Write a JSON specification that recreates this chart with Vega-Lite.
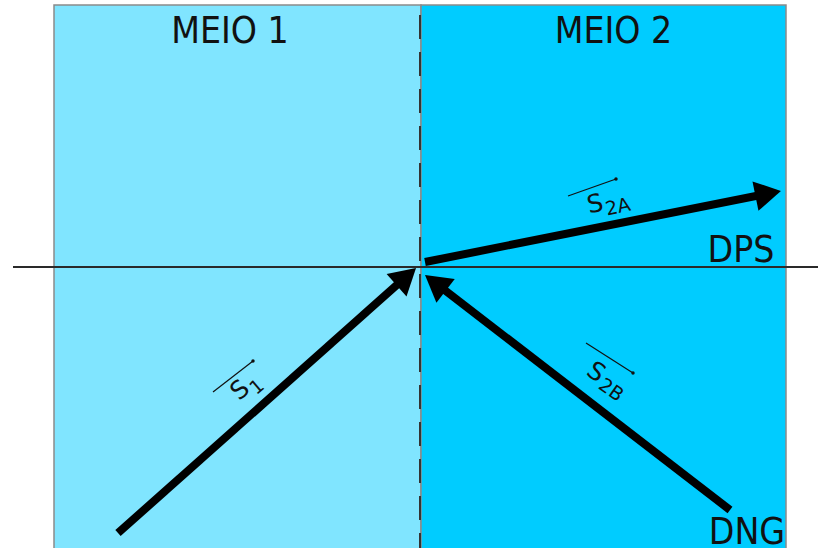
{
  "$schema": "https://vega.github.io/schema/vega-lite/v6.json",
  "width": 818,
  "height": 548,
  "autosize": "none",
  "padding": 0,
  "background": "white",
  "config": {"view": {"stroke": null}},
  "datasets": {
    "media": [
      {"medium": "MEIO 1", "x1": -366, "x2": 1, "y1": -290, "y2": 262},
      {"medium": "MEIO 2", "x1": 1, "x2": 366, "y1": -290, "y2": 262}
    ],
    "rays": [
      {"ray": "S1", "x0": -302, "y0": -266, "x1": -13.7, "y1": -9.6, "angle": 48.5},
      {"ray": "S2B", "x0": 310, "y0": -243, "x1": 15.3, "y1": -15.9, "angle": 307.6},
      {"ray": "S2A", "x0": 5, "y0": 5, "x1": 348.2, "y1": 73.5, "angle": 78.5}
    ],
    "vecs": [
      {"ray": "S1", "x0": -207, "y0": -125, "x1": -167, "y1": -94},
      {"ray": "S2A", "x0": 148, "y0": 71, "x1": 196, "y1": 88},
      {"ray": "S2B", "x0": 166, "y0": -76, "x1": 213, "y1": -106}
    ],
    "titles": [
      {"text": "MEIO 1", "x": -190, "y": 235},
      {"text": "MEIO 2", "x": 193.5, "y": 235},
      {"text": "DPS", "x": 321, "y": 16},
      {"text": "DNG", "x": 327, "y": -266}
    ],
    "symbols": [
      {"text": "S", "x": -180, "y": -123, "angle": 320, "size": 25},
      {"text": "1", "x": -163, "y": -120, "angle": 320, "size": 19},
      {"text": "S", "x": 175, "y": 63, "angle": 348, "size": 25},
      {"text": "2A", "x": 198, "y": 60, "angle": 348, "size": 19},
      {"text": "S", "x": 176, "y": -105, "angle": 35, "size": 25},
      {"text": "2B", "x": 191, "y": -123, "angle": 35, "size": 19}
    ],
    "axisline": [{"x0": -407, "x1": 398, "y": 0}],
    "divider": [{"x": 0, "y0": -290, "y1": 262}]
  },
  "layer": [
    {
      "data": {"name": "media"},
      "mark": {"type": "rect", "stroke": "#8a8a8a", "strokeWidth": 1.5},
      "encoding": {
        "x": {"field": "x1", "type": "quantitative", "scale": {"domain": [-420, 398], "nice": false, "zero": false}, "axis": null},
        "x2": {"field": "x2"},
        "y": {"field": "y1", "type": "quantitative", "scale": {"domain": [-281, 267], "nice": false, "zero": false}, "axis": null},
        "y2": {"field": "y2"},
        "fill": {"field": "medium", "type": "nominal", "scale": {"domain": ["MEIO 1", "MEIO 2"], "range": ["#80e5ff", "#00ccff"]}, "legend": null}
      }
    },
    {
      "data": {"name": "axisline"},
      "mark": {"type": "rule", "color": "#2a2a2a", "strokeWidth": 2},
      "encoding": {
        "x": {"field": "x0", "type": "quantitative"},
        "x2": {"field": "x1"},
        "y": {"field": "y", "type": "quantitative"}
      }
    },
    {
      "data": {"name": "divider"},
      "mark": {"type": "rule", "color": "#333333", "strokeWidth": 2, "strokeDash": [24, 13]},
      "encoding": {
        "x": {"field": "x", "type": "quantitative"},
        "y": {"field": "y0", "type": "quantitative"},
        "y2": {"field": "y1"}
      }
    },
    {
      "data": {"name": "rays"},
      "mark": {"type": "rule", "color": "black", "strokeWidth": 8},
      "encoding": {
        "x": {"field": "x0", "type": "quantitative"},
        "y": {"field": "y0", "type": "quantitative"},
        "x2": {"field": "x1"},
        "y2": {"field": "y1"}
      }
    },
    {
      "data": {"name": "rays"},
      "mark": {"type": "point", "shape": "triangle-up", "filled": true, "color": "black", "opacity": 1, "size": 900},
      "encoding": {
        "x": {"field": "x1", "type": "quantitative"},
        "y": {"field": "y1", "type": "quantitative"},
        "angle": {"field": "angle", "type": "quantitative", "scale": null}
      }
    },
    {
      "data": {"name": "vecs"},
      "mark": {"type": "rule", "color": "#111111", "strokeWidth": 1.2},
      "encoding": {
        "x": {"field": "x0", "type": "quantitative"},
        "y": {"field": "y0", "type": "quantitative"},
        "x2": {"field": "x1"},
        "y2": {"field": "y1"}
      }
    },
    {
      "data": {"name": "vecs"},
      "mark": {"type": "point", "shape": "circle", "filled": true, "color": "#111111", "opacity": 1, "size": 12},
      "encoding": {
        "x": {"field": "x1", "type": "quantitative"},
        "y": {"field": "y1", "type": "quantitative"}
      }
    },
    {
      "data": {"name": "titles"},
      "mark": {"type": "text", "font": "DejaVu Sans Condensed, DejaVu Sans", "fontSize": 37, "align": "center", "baseline": "middle", "color": "#111111"},
      "encoding": {
        "x": {"field": "x", "type": "quantitative"},
        "y": {"field": "y", "type": "quantitative"},
        "text": {"field": "text"}
      }
    },
    {
      "data": {"name": "symbols"},
      "mark": {"type": "text", "font": "DejaVu Sans", "align": "center", "baseline": "middle", "color": "#111111"},
      "encoding": {
        "x": {"field": "x", "type": "quantitative"},
        "y": {"field": "y", "type": "quantitative"},
        "text": {"field": "text"},
        "angle": {"field": "angle", "type": "quantitative", "scale": null},
        "size": {"field": "size", "type": "quantitative", "scale": null}
      }
    }
  ]
}
